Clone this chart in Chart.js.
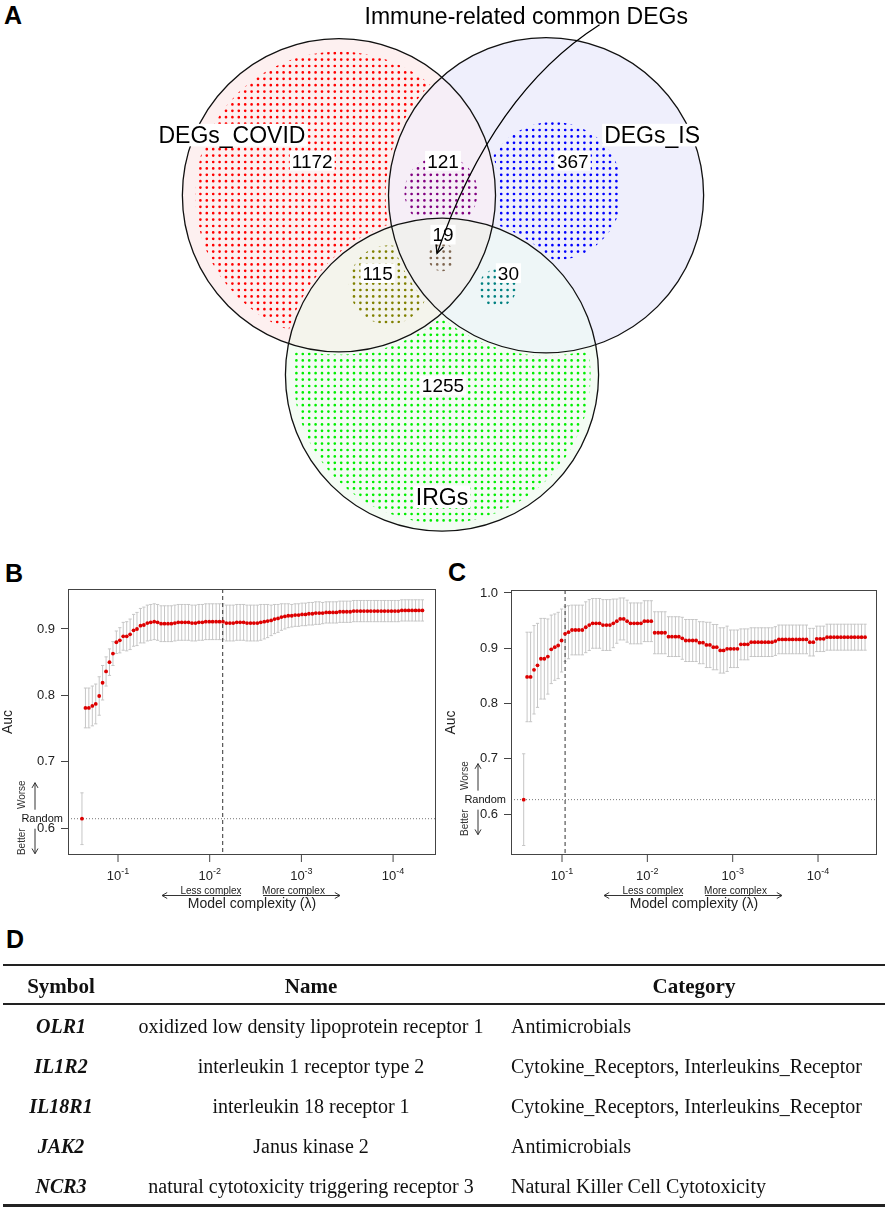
<!DOCTYPE html>
<html lang="en">
<head>
  <meta charset="UTF-8">
  <title>Immune-related common DEGs</title>
  <style>
    html, body { margin: 0; padding: 0; background: #fff; }
    body {
      width: 886px;
      height: 1209px;
      position: relative;
      overflow: hidden;
      font-family: Arial, "Liberation Sans", sans-serif;
    }
    canvas { position: absolute; }
    .panel {
      position: absolute;
      font: bold 25px Arial, "Liberation Sans", sans-serif;
      line-height: 25px;
      color: #000;
    }
    #geneTable {
      position: absolute;
      left: 0;
      top: 0;
      width: 886px;
      height: 1209px;
      font-family: "Liberation Serif", "Times New Roman", serif;
      color: #111;
      pointer-events: none;
    }
    .rule { position: absolute; left: 3px; width: 882px; background: #222; }
    .cell {
      position: absolute;
      height: 40px;
      line-height: 40px;
      white-space: nowrap;
      font-size: 20px;
    }
    .head { font-weight: bold; font-size: 21px; }
    .sym { font-weight: bold; font-style: italic; }
  </style>
  <!-- Chart.js -->
  <script src="https://cdn.jsdelivr.net/npm/chart.js"></script>
</head>
<body>

  <div class="panel" style="left:4px; top:3px;">A</div>
  <div class="panel" style="left:5px; top:561px;">B</div>
  <div class="panel" style="left:448px; top:560px;">C</div>
  <div class="panel" style="left:6px; top:927px;">D</div>

  <canvas id="venn" width="886" height="560" style="left:0; top:0;"></canvas>
  <canvas id="plotB" width="443" height="365" style="left:0; top:560px;"></canvas>
  <canvas id="plotC" width="443" height="365" style="left:443px; top:560px;"></canvas>

  <div id="geneTable"></div>

  <script>
    var SANS = "Arial, 'Liberation Sans', sans-serif";

    // ---- panel A: Venn counts ----
    var vennTitle = 'Immune-related common DEGs';
    var vennSets = ['DEGs_COVID', 'DEGs_IS', 'IRGs'];
    // regions: COVID only, COVID&IS, IS only, COVID&IRG, all three, IS&IRG, IRG only
    var vennCounts = [1172, 121, 367, 115, 19, 30, 1255];

    // ---- panels B / C: cross-validated AUC along the lambda path (x = -log10 lambda) ----
    var negLogLambdaB = [
      0.607, 0.645, 0.682, 0.720, 0.757, 0.795, 0.832, 0.870, 0.907, 0.945,
      0.982, 1.020, 1.057, 1.095, 1.132, 1.170, 1.207, 1.245, 1.282, 1.320,
      1.357, 1.395, 1.432, 1.470, 1.507, 1.545, 1.582, 1.620, 1.657, 1.695,
      1.732, 1.770, 1.807, 1.845, 1.882, 1.920, 1.957, 1.995, 2.032, 2.070,
      2.107, 2.145, 2.182, 2.220, 2.257, 2.295, 2.332, 2.370, 2.407, 2.445,
      2.482, 2.520, 2.557, 2.595, 2.632, 2.670, 2.707, 2.745, 2.782, 2.820,
      2.857, 2.895, 2.932, 2.970, 3.007, 3.045, 3.082, 3.120, 3.157, 3.195,
      3.232, 3.270, 3.307, 3.345, 3.382, 3.420, 3.457, 3.495, 3.532, 3.570,
      3.607, 3.645, 3.682, 3.720, 3.757, 3.795, 3.832, 3.870, 3.907, 3.945,
      3.982, 4.020, 4.057, 4.095, 4.132, 4.170, 4.207, 4.245, 4.282, 4.320
    ];
    var aucB = [
      0.614, 0.781, 0.781, 0.784, 0.787, 0.799, 0.819, 0.836, 0.850, 0.863,
      0.880, 0.883, 0.889, 0.889, 0.892, 0.898, 0.900, 0.905, 0.906, 0.909,
      0.910, 0.911, 0.910, 0.908, 0.908, 0.908, 0.908, 0.909, 0.910, 0.910,
      0.910, 0.910, 0.909, 0.909, 0.910, 0.910, 0.911, 0.911, 0.911, 0.911,
      0.911, 0.911, 0.909, 0.909, 0.909, 0.910, 0.910, 0.910, 0.909, 0.909,
      0.909, 0.909, 0.910, 0.911, 0.912, 0.913, 0.915, 0.916, 0.918, 0.919,
      0.920, 0.920, 0.921, 0.921, 0.922, 0.922, 0.923, 0.923, 0.924, 0.924,
      0.924, 0.925, 0.925, 0.925, 0.925, 0.926, 0.926, 0.926, 0.926, 0.927,
      0.927, 0.927, 0.927, 0.927, 0.927, 0.927, 0.927, 0.927, 0.927, 0.927,
      0.927, 0.927, 0.927, 0.928, 0.928, 0.928, 0.928, 0.928, 0.928, 0.928
    ];
    var aucSdB = [
      0.039, 0.030, 0.030, 0.030, 0.030, 0.029, 0.026, 0.022, 0.020, 0.018,
      0.017, 0.019, 0.021, 0.022, 0.023, 0.024, 0.025, 0.026, 0.027, 0.027,
      0.027, 0.027, 0.027, 0.027, 0.027, 0.027, 0.027, 0.027, 0.027, 0.027,
      0.027, 0.027, 0.027, 0.027, 0.027, 0.027, 0.027, 0.027, 0.027, 0.027,
      0.027, 0.027, 0.027, 0.027, 0.027, 0.027, 0.027, 0.027, 0.027, 0.027,
      0.027, 0.027, 0.027, 0.026, 0.025, 0.023, 0.022, 0.021, 0.020, 0.019,
      0.018, 0.017, 0.017, 0.017, 0.017, 0.017, 0.017, 0.017, 0.017, 0.017,
      0.016, 0.016, 0.016, 0.016, 0.016, 0.016, 0.016, 0.016, 0.016, 0.016,
      0.016, 0.016, 0.016, 0.016, 0.016, 0.016, 0.016, 0.016, 0.016, 0.016,
      0.016, 0.016, 0.016, 0.016, 0.016, 0.016, 0.016, 0.016, 0.016, 0.016
    ];
    var lambdaMinB = 2.142;

    var negLogLambdaC = [
      0.551, 0.591, 0.632, 0.672, 0.713, 0.753, 0.793, 0.834, 0.874, 0.915,
      0.955, 0.995, 1.036, 1.076, 1.117, 1.157, 1.197, 1.238, 1.278, 1.319,
      1.359, 1.399, 1.440, 1.480, 1.521, 1.561, 1.601, 1.642, 1.682, 1.723,
      1.763, 1.803, 1.844, 1.884, 1.925, 1.965, 2.005, 2.046, 2.086, 2.127,
      2.167, 2.207, 2.248, 2.288, 2.329, 2.369, 2.409, 2.450, 2.490, 2.531,
      2.571, 2.611, 2.652, 2.692, 2.733, 2.773, 2.813, 2.854, 2.894, 2.935,
      2.975, 3.015, 3.056, 3.096, 3.137, 3.177, 3.217, 3.258, 3.298, 3.339,
      3.379, 3.419, 3.460, 3.500, 3.541, 3.581, 3.621, 3.662, 3.702, 3.743,
      3.783, 3.823, 3.864, 3.904, 3.945, 3.985, 4.025, 4.066, 4.106, 4.147,
      4.187, 4.227, 4.268, 4.308, 4.349, 4.389, 4.429, 4.470, 4.510, 4.551
    ];
    var aucC = [
      0.626, 0.848, 0.848, 0.861, 0.869, 0.881, 0.881, 0.885, 0.898, 0.902,
      0.905, 0.914, 0.926, 0.929, 0.933, 0.933, 0.933, 0.933, 0.938, 0.942,
      0.945, 0.945, 0.945, 0.942, 0.942, 0.942, 0.945, 0.949, 0.953, 0.953,
      0.949, 0.945, 0.945, 0.945, 0.945, 0.949, 0.949, 0.949, 0.928, 0.928,
      0.928, 0.928, 0.921, 0.921, 0.921, 0.921, 0.918, 0.914, 0.914, 0.914,
      0.914, 0.910, 0.910, 0.906, 0.906, 0.902, 0.902, 0.896, 0.896, 0.899,
      0.899, 0.899, 0.899, 0.907, 0.907, 0.907, 0.911, 0.911, 0.911, 0.911,
      0.911, 0.911, 0.911, 0.913, 0.916, 0.916, 0.916, 0.916, 0.916, 0.916,
      0.916, 0.916, 0.916, 0.911, 0.911, 0.917, 0.917, 0.917, 0.920, 0.920,
      0.920, 0.920, 0.920, 0.920, 0.920, 0.920, 0.920, 0.920, 0.920, 0.920
    ];
    var aucSdC = [
      0.083, 0.081, 0.081, 0.080, 0.076, 0.073, 0.073, 0.068, 0.062, 0.060,
      0.060, 0.057, 0.050, 0.048, 0.045, 0.045, 0.045, 0.045, 0.046, 0.046,
      0.045, 0.045, 0.045, 0.046, 0.046, 0.046, 0.044, 0.040, 0.038, 0.038,
      0.038, 0.037, 0.037, 0.037, 0.037, 0.037, 0.037, 0.037, 0.038, 0.038,
      0.038, 0.038, 0.036, 0.036, 0.036, 0.036, 0.038, 0.038, 0.038, 0.038,
      0.038, 0.038, 0.038, 0.041, 0.041, 0.041, 0.041, 0.041, 0.041, 0.041,
      0.034, 0.034, 0.034, 0.028, 0.028, 0.028, 0.026, 0.026, 0.026, 0.026,
      0.026, 0.026, 0.026, 0.026, 0.026, 0.026, 0.026, 0.026, 0.026, 0.026,
      0.026, 0.026, 0.026, 0.025, 0.025, 0.023, 0.023, 0.023, 0.0235, 0.0235,
      0.0235, 0.0235, 0.0235, 0.0235, 0.0235, 0.0235, 0.0235, 0.0235, 0.0235, 0.0235
    ];
    var lambdaMinC = 1.036;

    var xTicks = [1, 2, 3, 4];
    var xTickExponents = ['-1', '-2', '-3', '-4'];
    var yTicksB = [0.6, 0.7, 0.8, 0.9];
    var yTicksC = [0.6, 0.7, 0.8, 0.9, 1.0];

    // ---- panel D: gene table ----
    var tableHeaders = ['Symbol', 'Name', 'Category'];
    var geneSymbols = ['OLR1', 'IL1R2', 'IL18R1', 'JAK2', 'NCR3'];
    var geneNames = [
      'oxidized low density lipoprotein receptor 1',
      'interleukin 1 receptor type 2',
      'interleukin 18 receptor 1',
      'Janus kinase 2',
      'natural cytotoxicity triggering receptor 3'
    ];
    var geneCategories = [
      'Antimicrobials',
      'Cytokine_Receptors, Interleukins_Receptor',
      'Cytokine_Receptors, Interleukins_Receptor',
      'Antimicrobials',
      'Natural Killer Cell Cytotoxicity'
    ];

    // ---------------- Venn layout (pixel units of the venn canvas) ----------------
    var vennCircles = [
      { x: 338, y: 194, r: 158 },
      { x: 547, y: 194, r: 159 },
      { x: 442, y: 376, r: 158 }
    ];
    var regionIn = [[0], [0, 1], [1], [0, 2], [0, 1, 2], [1, 2], [2]];
    var regionOut = [[1, 2], [2], [0, 2], [1], [], [0], [0, 1]];
    var regionFill = ['#fdf0f0', '#f6eef7', '#efeffc', '#f4f4ec', '#f1f0ee', '#eef6f7', '#f4fcf4'];
    var regionDot = ['#ff0000', '#800080', '#0000ff', '#808000', '#7f6650', '#008080', '#00ee00'];
    var regionBlob = [null, { x: 441, y: 191, r: 37 }, { x: 554, y: 190, r: 70 },
      { x: 388, y: 285, r: 40 }, { x: 442, y: 257, r: 14 }, { x: 498, y: 288, r: 19 }, null];
    var regionInset = [13, 0, 0, 0, 0, 0, 8];
    var countPos = [[311, 159], [443, 159], [574, 159], [377, 273], [443, 234], [509, 273], [443, 387]];
    var setLabelPos = [[230, 133], [654, 133], [442, 500]];

    function arrowHead(ctx, x1, y1, x2, y2, len, ang) {
      var a = Math.atan2(y2 - y1, x2 - x1);
      ctx.beginPath();
      ctx.moveTo(x2 - len * Math.cos(a - ang), y2 - len * Math.sin(a - ang));
      ctx.lineTo(x2, y2);
      ctx.lineTo(x2 - len * Math.cos(a + ang), y2 - len * Math.sin(a + ang));
      ctx.stroke();
    }

    function arrowLine(ctx, x1, y1, x2, y2, len) {
      ctx.beginPath();
      ctx.moveTo(x1, y1);
      ctx.lineTo(x2, y2);
      ctx.stroke();
      arrowHead(ctx, x1, y1, x2, y2, len, Math.PI / 6);
    }

    function clipRegion(ctx, k, X, Y, R, W, H, inset, grow) {
      regionIn[k].forEach(function (i) {
        var c = vennCircles[i];
        ctx.beginPath();
        ctx.arc(X(c.x), Y(c.y), R(c.r - inset), 0, 2 * Math.PI);
        ctx.clip();
      });
      regionOut[k].forEach(function (i) {
        var c = vennCircles[i];
        ctx.beginPath();
        ctx.rect(0, 0, W, H);
        ctx.arc(X(c.x), Y(c.y), R(c.r + grow), 0, 2 * Math.PI);
        ctx.clip('evenodd');
      });
    }

    function boxedLabel(ctx, text, x, y, size) {
      ctx.font = size + 'px ' + SANS;
      var w = ctx.measureText(text).width;
      var cap = size * 0.72;
      ctx.fillStyle = '#ffffff';
      ctx.fillRect(x - w / 2 - 2, y - cap / 2 - 3, w + 4, cap + 6);
      ctx.fillStyle = '#000000';
      ctx.textAlign = 'center';
      ctx.textBaseline = 'alphabetic';
      ctx.fillText(text, x, y + cap / 2);
    }

    var vennPlugin = {
      id: 'vennRegions',
      beforeDatasetsDraw: function (chart) {
        var ctx = chart.ctx;
        var W = chart.width, H = chart.height;
        var X = function (v) { return chart.scales.x.getPixelForValue(v); };
        var Y = function (v) { return chart.scales.y.getPixelForValue(v); };
        var R = function (r) { return X(r) - X(0); };

        // region fills
        vennCounts.forEach(function (n, k) {
          ctx.save();
          clipRegion(ctx, k, X, Y, R, W, H, 0, 0);
          ctx.fillStyle = regionFill[k];
          ctx.fillRect(0, 0, W, H);
          ctx.restore();
        });

        // dotted texture in each region
        vennCounts.forEach(function (n, k) {
          var blob = regionBlob[k];
          var b = blob || vennCircles[regionIn[k][0]];
          ctx.save();
          clipRegion(ctx, k, X, Y, R, W, H, regionInset[k], 3);
          if (blob) {
            ctx.beginPath();
            ctx.arc(X(blob.x), Y(blob.y), R(blob.r), 0, 2 * Math.PI);
            ctx.clip();
          }
          ctx.fillStyle = regionDot[k];
          var step = 6.4, dot = 1.35;
          var x0 = X(b.x) - R(b.r), x1 = X(b.x) + R(b.r);
          var y0 = Y(b.y) - R(b.r), y1 = Y(b.y) + R(b.r);
          var sx = Math.floor(x0 / step) * step + 2;
          var sy = Math.floor(y0 / step) * step + 2;
          ctx.beginPath();
          for (var px = sx; px <= x1; px += step) {
            for (var py = sy; py <= y1; py += step) {
              ctx.moveTo(px + dot, py);
              ctx.arc(px, py, dot, 0, 2 * Math.PI);
            }
          }
          ctx.fill();
          ctx.restore();
        });
      },
      afterDatasetsDraw: function (chart) {
        var ctx = chart.ctx;
        var X = function (v) { return chart.scales.x.getPixelForValue(v); };
        var Y = function (v) { return chart.scales.y.getPixelForValue(v); };
        var R = function (r) { return X(r) - X(0); };
        ctx.save();

        // set outlines, centred on the bubble elements placed by the library
        var meta = chart.getDatasetMeta(0);
        ctx.strokeStyle = '#111';
        ctx.lineWidth = 1.3;
        vennCircles.forEach(function (c, i) {
          var el = meta.data[i];
          var cx = el && isFinite(el.x) ? el.x : X(c.x);
          var cy = el && isFinite(el.y) ? el.y : Y(c.y);
          ctx.beginPath();
          ctx.arc(cx, cy, R(c.r), 0, 2 * Math.PI);
          ctx.stroke();
        });

        vennSets.forEach(function (s, i) {
          boxedLabel(ctx, s, X(setLabelPos[i][0]), Y(setLabelPos[i][1]), 23);
        });
        vennCounts.forEach(function (n, k) {
          boxedLabel(ctx, String(n), X(countPos[k][0]), Y(countPos[k][1]), 19);
        });

        // title with curved pointer to the shared region
        ctx.font = '23px ' + SANS;
        ctx.fillStyle = '#000';
        ctx.textAlign = 'center';
        ctx.textBaseline = 'alphabetic';
        ctx.fillText(vennTitle, X(527), Y(20));

        ctx.strokeStyle = '#000';
        ctx.lineWidth = 1.3;
        ctx.beginPath();
        ctx.moveTo(X(601), Y(21));
        ctx.quadraticCurveTo(X(493), Y(90), X(437), Y(253));
        ctx.stroke();
        arrowHead(ctx, X(493), Y(90), X(437), Y(253), 9, Math.PI / 7);
        ctx.restore();
      }
    };

    new Chart(document.getElementById('venn'), {
      type: 'bubble',
      data: {
        datasets: [{
          data: vennCircles.map(function (c) { return { x: c.x, y: c.y }; }),
          backgroundColor: 'rgba(0,0,0,0)',
          borderColor: 'rgba(0,0,0,0)',
          borderWidth: 0,
          radius: 1,
          clip: false
        }]
      },
      options: {
        responsive: false,
        animation: false,
        events: [],
        layout: { padding: 0 },
        plugins: { legend: { display: false }, tooltip: { enabled: false } },
        scales: {
          x: { type: 'linear', min: 0, max: 886, display: false },
          y: { type: 'linear', min: 0, max: 560, reverse: true, display: false }
        }
      },
      plugins: [vennPlugin]
    });

    // ---------------- B / C: AUC vs model complexity ----------------
    function cvPlugin(cfg) {
      return {
        id: 'cvExtras',
        beforeDatasetsDraw: function (chart) {
          var ctx = chart.ctx, a = chart.chartArea;
          var x = chart.scales.x, y = chart.scales.y;
          ctx.save();
          // error bars
          ctx.strokeStyle = '#c6c6c6';
          ctx.lineWidth = 1;
          cfg.x.forEach(function (xv, i) {
            var px = x.getPixelForValue(xv);
            var top = y.getPixelForValue(cfg.auc[i] + cfg.sd[i]);
            var bot = y.getPixelForValue(cfg.auc[i] - cfg.sd[i]);
            ctx.beginPath();
            ctx.moveTo(px, top); ctx.lineTo(px, bot);
            ctx.moveTo(px - 1.6, top); ctx.lineTo(px + 1.6, top);
            ctx.moveTo(px - 1.6, bot); ctx.lineTo(px + 1.6, bot);
            ctx.stroke();
          });
          // random (null model) level
          var ry = y.getPixelForValue(cfg.auc[0]);
          ctx.strokeStyle = '#777';
          ctx.setLineDash([1, 2]);
          ctx.beginPath();
          ctx.moveTo(a.left, ry); ctx.lineTo(a.right, ry);
          ctx.stroke();
          // selected lambda
          var lx = x.getPixelForValue(cfg.lambdaMin);
          ctx.strokeStyle = '#333';
          ctx.setLineDash([4, 3]);
          ctx.beginPath();
          ctx.moveTo(lx, a.top); ctx.lineTo(lx, a.bottom);
          ctx.stroke();
          ctx.restore();
        },
        afterDraw: function (chart) {
          var ctx = chart.ctx, a = chart.chartArea;
          var x = chart.scales.x, y = chart.scales.y;
          ctx.save();
          ctx.setLineDash([]);
          ctx.strokeStyle = '#444';
          ctx.lineWidth = 1;
          ctx.strokeRect(a.left + 0.5, a.top + 0.5, a.right - a.left - 1, a.bottom - a.top - 1);

          ctx.fillStyle = '#222';
          ctx.textBaseline = 'alphabetic';
          // x tick labels 10^-k
          xTicks.forEach(function (v, i) {
            var px = x.getPixelForValue(v);
            ctx.beginPath();
            ctx.moveTo(px, a.bottom); ctx.lineTo(px, a.bottom + 7);
            ctx.stroke();
            ctx.font = '13px ' + SANS;
            var w1 = ctx.measureText('10').width;
            ctx.font = '9px ' + SANS;
            var w2 = ctx.measureText(xTickExponents[i]).width;
            var start = px - (w1 + w2) / 2;
            ctx.textAlign = 'left';
            ctx.font = '13px ' + SANS;
            ctx.fillText('10', start, a.bottom + 25);
            ctx.font = '9px ' + SANS;
            ctx.fillText(xTickExponents[i], start + w1, a.bottom + 19);
          });

          var cx = (a.left + a.right) / 2;
          ctx.textAlign = 'center';
          ctx.font = '14px ' + SANS;
          ctx.fillText('Model complexity (\u03BB)', cx, a.bottom + 53);
          ctx.font = '10px ' + SANS;
          ctx.fillText('Less complex', cx - 41, a.bottom + 39);
          ctx.fillText('More complex', cx + 41.5, a.bottom + 39);
          ctx.strokeStyle = '#333';
          arrowLine(ctx, cx - 11, a.bottom + 40.5, cx - 90, a.bottom + 40.5, 6);
          arrowLine(ctx, cx + 11, a.bottom + 40.5, cx + 88, a.bottom + 40.5, 6);

          // y title
          ctx.save();
          ctx.translate(a.left - 60, (a.top + a.bottom) / 2);
          ctx.rotate(-Math.PI / 2);
          ctx.font = '14px ' + SANS;
          ctx.textBaseline = 'middle';
          ctx.fillText('Auc', 0, 0);
          ctx.restore();

          // Random / Better / Worse guide
          var ry = y.getPixelForValue(cfg.auc[0]);
          ctx.font = '11px ' + SANS;
          ctx.textAlign = 'right';
          ctx.textBaseline = 'middle';
          ctx.fillStyle = '#111';
          ctx.fillText('Random', a.left - 5, ry);
          ctx.font = '10px ' + SANS;
          ctx.textAlign = 'center';
          ctx.fillStyle = '#333';
          [['Worse', -24], ['Better', 23]].forEach(function (t) {
            ctx.save();
            ctx.translate(a.left - 46, ry + t[1]);
            ctx.rotate(-Math.PI / 2);
            ctx.fillText(t[0], 0, 0);
            ctx.restore();
          });
          ctx.strokeStyle = '#333';
          arrowLine(ctx, a.left - 33, ry - 9, a.left - 33, ry - 36, 6);
          arrowLine(ctx, a.left - 33, ry + 10, a.left - 33, ry + 35, 6);
          ctx.restore();
        }
      };
    }

    function drawCvPlot(cfg) {
      new Chart(document.getElementById(cfg.canvas), {
        type: 'scatter',
        data: {
          datasets: [{
            data: cfg.x.map(function (xv, i) { return { x: xv, y: cfg.auc[i] }; }),
            pointRadius: 1.9,
            pointBackgroundColor: '#dd0000',
            pointBorderWidth: 0,
            showLine: false
          }]
        },
        options: {
          responsive: false,
          animation: false,
          events: [],
          layout: { padding: { left: 0, right: cfg.padRight, top: cfg.padTop, bottom: 0 } },
          plugins: { legend: { display: false }, tooltip: { enabled: false } },
          scales: {
            x: {
              type: 'linear',
              min: cfg.xMin,
              max: cfg.xMax,
              afterBuildTicks: function (s) { s.ticks = xTicks.map(function (v) { return { value: v }; }); },
              afterFit: function (s) { s.height = 70; },
              grid: { display: false },
              border: { display: false },
              ticks: { display: false }
            },
            y: {
              type: 'linear',
              min: cfg.yMin,
              max: cfg.yMax,
              afterBuildTicks: function (s) { s.ticks = cfg.yTicks.map(function (v) { return { value: v }; }); },
              afterFit: function (s) { s.width = 68; },
              grid: { drawOnChartArea: false, drawTicks: true, tickLength: 7, color: '#444' },
              border: { display: false },
              ticks: {
                padding: 6,
                color: '#222',
                font: { family: SANS, size: 13 },
                callback: function (v) { return Number(v).toFixed(1); }
              }
            }
          }
        },
        plugins: [cvPlugin(cfg)]
      });
    }

    drawCvPlot({
      canvas: 'plotB', x: negLogLambdaB, auc: aucB, sd: aucSdB, lambdaMin: lambdaMinB,
      xMin: 0.4547, xMax: 4.468, yMin: 0.5593, yMax: 0.9603, yTicks: yTicksB,
      padRight: 7, padTop: 29
    });
    drawCvPlot({
      canvas: 'plotC', x: negLogLambdaC, auc: aucC, sd: aucSdC, lambdaMin: lambdaMinC,
      xMin: 0.4023, xMax: 4.691, yMin: 0.5258, yMax: 1.0054, yTicks: yTicksC,
      padRight: 9, padTop: 30
    });

    // ---------------- D: table ----------------
    (function buildTable() {
      var host = document.getElementById('geneTable');
      function rule(top, h) {
        var d = document.createElement('div');
        d.className = 'rule';
        d.style.top = top + 'px';
        d.style.height = h + 'px';
        host.appendChild(d);
      }
      function cell(text, cls, center, left, mid) {
        var d = document.createElement('div');
        d.className = 'cell ' + cls;
        d.textContent = text;
        d.style.top = (mid - 20) + 'px';
        if (center !== null) {
          d.style.left = (center - 300) + 'px';
          d.style.width = '600px';
          d.style.textAlign = 'center';
        } else {
          d.style.left = left + 'px';
        }
        host.appendChild(d);
      }
      rule(964, 2);
      rule(1003, 1.5);
      rule(1204, 2.5);
      cell(tableHeaders[0], 'head', 61, 0, 986);
      cell(tableHeaders[1], 'head', 311, 0, 986);
      cell(tableHeaders[2], 'head', 694, 0, 986);
      geneSymbols.forEach(function (s, i) {
        var mid = 1026 + 40 * i;
        cell(s, 'sym', 61, 0, mid);
        cell(geneNames[i], '', 311, 0, mid);
        cell(geneCategories[i], '', null, 511, mid);
      });
    })();
  </script>

</body>
</html>
